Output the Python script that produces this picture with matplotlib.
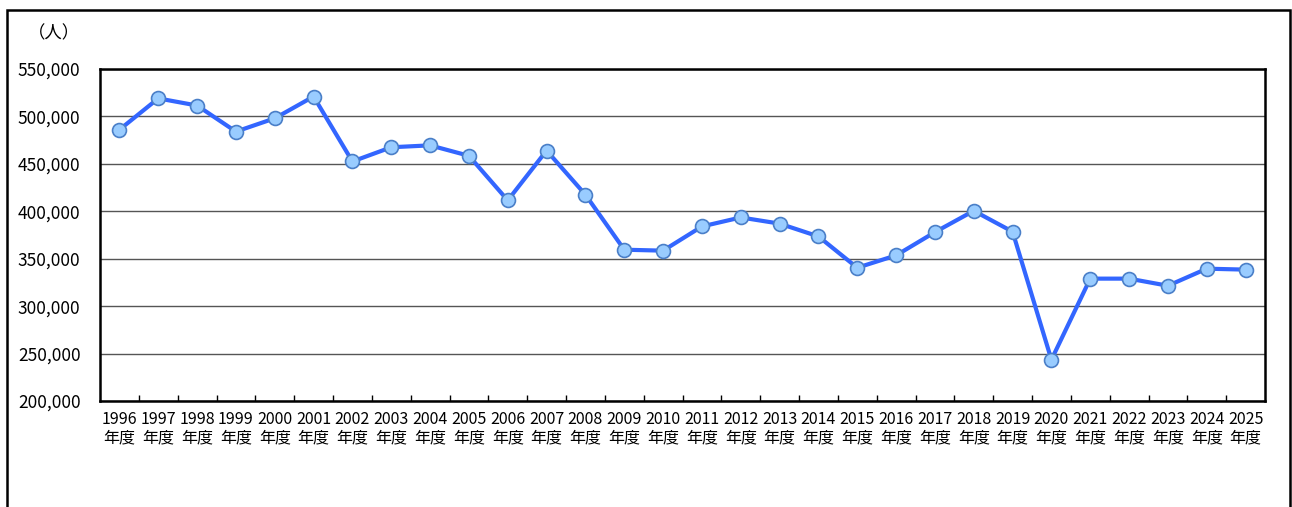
import matplotlib.pyplot as plt
import matplotlib.patches as mpatches
import numpy as np

plt.rcParams["font.family"] = ["Noto Sans CJK JP", "DejaVu Sans"]

years = list(range(1996, 2026))
visitors = [
    486000, 519000, 511500, 484000, 498000, 521000, 452500, 467500, 469500, 458500,
    411500, 464000, 417500, 359500, 358500, 384000, 393500, 387000, 373500, 340500,
    353500, 378000, 400500, 378500, 243500, 329000, 329000, 321500, 339500, 338500,
]
tick_labels = [f"{y}\n年度" for y in years]
y_ticks = [200000, 250000, 300000, 350000, 400000, 450000, 500000, 550000]

fig = plt.figure(figsize=(12.92, 5.07), dpi=100)
ax = fig.add_axes([100 / 1292, 1 - 401 / 507, 1165 / 1292, 332 / 507])

x = np.arange(len(years))
ax.plot(x, visitors, color="#3366ff", linewidth=3, zorder=3,
        marker="o", markersize=10, markerfacecolor="#99ccff",
        markeredgecolor="#4a7fc8", markeredgewidth=1.2)

ax.set_xlim(-0.5, len(years) - 0.5)
ax.set_ylim(200000, 550000)
ax.set_yticks(y_ticks)
ax.set_yticklabels([f"{v:,}" for v in y_ticks], fontsize=12.5)
ax.tick_params(axis="y", length=0, pad=14)
ax.yaxis.grid(True, color="#555555", linewidth=1)
ax.set_axisbelow(True)

ax.set_xticks(x)
ax.set_xticklabels(tick_labels, fontsize=11.5, linespacing=1.15)
ax.tick_params(axis="x", which="major", length=0, pad=7)
ax.set_xticks(np.arange(0.5, len(years) - 1, 1.0), minor=True)
ax.tick_params(axis="x", which="minor", direction="in", length=4, width=1)

for spine in ax.spines.values():
    spine.set_linewidth(1.8)
    spine.set_color("black")

fig.text(28 / 1292, 1 - 33 / 507, "（人）", fontsize=12.5, va="center", ha="left")

border = mpatches.Rectangle((7 / 1292, -0.05), (1290 - 7) / 1292, (1.05 - 10 / 507),
                            transform=fig.transFigure, fill=False,
                            edgecolor="black", linewidth=1.8)
fig.patches.append(border)

fig.savefig("out.png", dpi=100)
